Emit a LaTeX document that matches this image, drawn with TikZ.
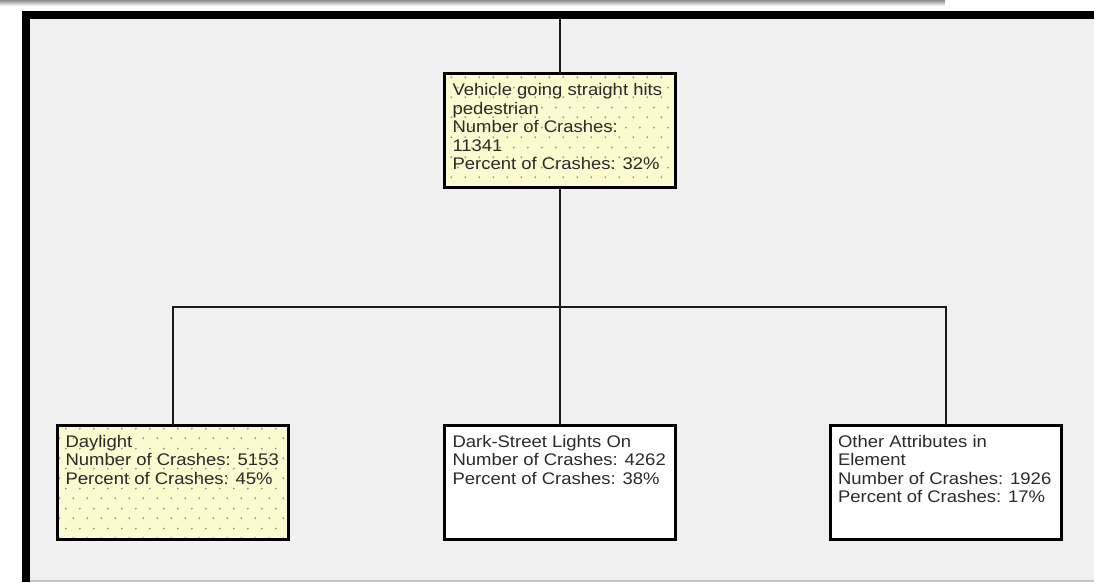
\documentclass[tikz,border=0pt]{standalone}
\usepackage{fontspec}
\setmainfont[FakeStretch=1.1]{Liberation Sans}
\usetikzlibrary{patterns,positioning}
\definecolor{cFrame}{HTML}{000000}
\definecolor{cPane} {HTML}{F0F0F0}
\definecolor{cHit}  {HTML}{FBFBCF}
\definecolor{cDot}  {HTML}{9E9E80}
\definecolor{cInk}  {HTML}{2B2B2B}
\definecolor{cWire} {HTML}{1A1A1A}
\pgfdeclarepatternformonly{crashdots}{\pgfqpoint{0pt}{0pt}}{\pgfqpoint{14pt}{20pt}}{\pgfqpoint{14pt}{20pt}}{%
  \pgfpathcircle{\pgfqpoint{3.5pt}{5pt}}{1.1pt}%
  \pgfpathcircle{\pgfqpoint{10.5pt}{15pt}}{1.1pt}%
  \pgfusepath{fill}}
\tikzset{
  crash/.style ={draw=black,line width=3pt,inner sep=8pt,minimum width=231pt,
                 minimum height=114pt,text=cInk,font=\fontsize{16.8}{18.5}\selectfont},
  plain/.style ={crash,fill=white},
  hit/.style   ={crash,preaction={fill=cHit},pattern=crashdots,pattern color=cDot},
  wire/.style  ={draw=cWire,line width=2pt},
}
\newcommand{\crashtxt}[1]{\parbox[c][98pt][t]{215pt}{\raggedright\vspace*{2pt}#1}}

\begin{document}
\begin{tikzpicture}[x=1pt,y=-1pt,every node/.style={outer sep=0pt}]
\useasboundingbox (0,0) rectangle (1094,582);

% ---- window frame -------------------------------------------------------
\shade[top color=black!45,bottom color=white] (0,0) rectangle (945,6);
\fill[cFrame] (22,11) rectangle (1094,582);
\fill[cPane] (30,19) rectangle (1094,580);
\fill[black!22] (30,580) rectangle (1094,582);

% ---- boxes --------------------------------------------------------------
\node[hit] (veh) at (560,130.5)
  {\crashtxt{Vehicle going straight hits\\pedestrian\\Number of Crashes:\\11341\\Percent of Crashes: 32\%}};
\node[hit] (day) at (173,482)
  {\crashtxt{Daylight\\Number of Crashes: 5153\\Percent of Crashes: 45\%}};
\node[plain] (dark) at (560,482)
  {\crashtxt{Dark-Street Lights On\\Number of Crashes: 4262\\Percent of Crashes: 38\%}};
\node[plain] (other) at (945.5,482)
  {\crashtxt{Other Attributes in\\Element\\Number of Crashes: 1926\\Percent of Crashes: 17\%}};

% ---- wires --------------------------------------------------------------
\coordinate (feed) at (560,19);
\coordinate (bus) at (560,307);
\draw[wire] (feed) -- (veh.north);
\draw[wire] (veh.south) -- (bus);
\draw[wire] (day.north) |- (bus) -| (other.north);
\draw[wire] (bus) -- (dark.north);
\end{tikzpicture}
\end{document}
